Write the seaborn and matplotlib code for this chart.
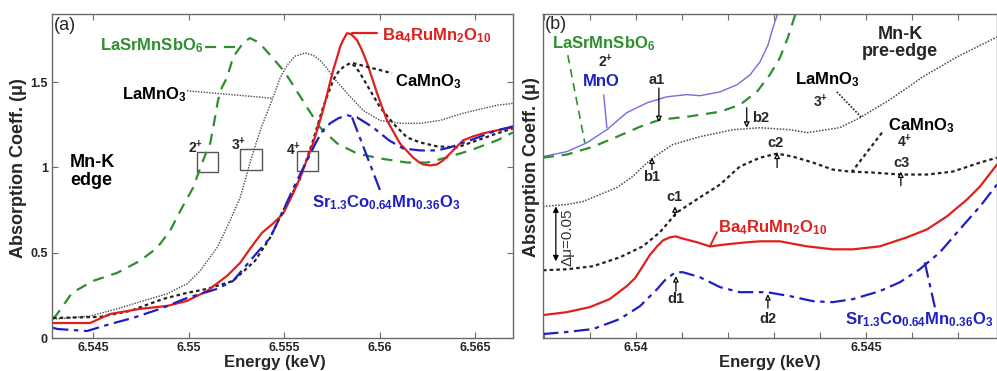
import matplotlib
matplotlib.use('Agg')
import matplotlib.pyplot as plt
from matplotlib.patches import Rectangle
import seaborn as sns

# ---------------- panel (a): Mn-K edge ----------------
e_sb_a = [6.5429, 6.54312, 6.5439, 6.545, 6.54626, 6.54746, 6.54835, 6.54903, 6.54966, 6.55024,
          6.5506, 6.55086, 6.55113, 6.55134, 6.55154, 6.55175, 6.55202, 6.55233, 6.5527, 6.55296,
          6.55322, 6.55353, 6.5539, 6.55437, 6.55495, 6.55531, 6.5562, 6.55688, 6.55778, 6.55882,
          6.56003, 6.56144, 6.56249, 6.56353, 6.56474, 6.56615, 6.56699]
mu_sb_a = [0.112, 0.141, 0.265, 0.335, 0.382, 0.453, 0.529, 0.629, 0.765, 0.882,
           0.994, 1.071, 1.141, 1.265, 1.394, 1.471, 1.529, 1.647, 1.706, 1.741,
           1.759, 1.741, 1.706, 1.647, 1.571, 1.512, 1.353, 1.235, 1.141, 1.082,
           1.053, 1.029, 1.029, 1.059, 1.1, 1.159, 1.206]

e_la_a = [6.5429, 6.54312, 6.54484, 6.54626, 6.54762, 6.54887, 6.54992, 6.5506, 6.55149, 6.55217,
          6.5527, 6.55296, 6.55322, 6.55353, 6.55385, 6.55416, 6.55442, 6.55479, 6.55516, 6.55558,
          6.5561, 6.55652, 6.55688, 6.55725, 6.55757, 6.5583, 6.55914, 6.56003, 6.56107, 6.56212,
          6.56317, 6.56437, 6.56615, 6.56699]
mu_la_a = [0.112, 0.112, 0.129, 0.171, 0.218, 0.259, 0.318, 0.394, 0.529, 0.688,
           0.824, 0.924, 1.029, 1.141, 1.247, 1.335, 1.412, 1.524, 1.6, 1.653,
           1.671, 1.659, 1.629, 1.582, 1.529, 1.435, 1.335, 1.276, 1.259, 1.259,
           1.276, 1.318, 1.365, 1.376]

e_ca_a = [6.5429, 6.54312, 6.54537, 6.54694, 6.54866, 6.54992, 6.55097, 6.55233, 6.55348, 6.55427,
          6.55495, 6.55584, 6.55652, 6.55704, 6.55757, 6.55783, 6.55809, 6.55846, 6.55872, 6.55898,
          6.5595, 6.56003, 6.56071, 6.56144, 6.56212, 6.56301, 6.56406, 6.56511, 6.56615, 6.56699]
mu_ca_a = [0.118, 0.118, 0.124, 0.159, 0.229, 0.265, 0.288, 0.335, 0.453, 0.588,
           0.747, 0.935, 1.159, 1.353, 1.512, 1.559, 1.588, 1.612, 1.594, 1.553,
           1.453, 1.353, 1.259, 1.176, 1.147, 1.124, 1.118, 1.159, 1.2, 1.229]

e_ba_a = [6.5429, 6.54484, 6.54589, 6.54746, 6.54887, 6.54992, 6.55097, 6.55202, 6.5527, 6.55322,
          6.55385, 6.55442, 6.55495, 6.55542, 6.55584, 6.55652, 6.55704, 6.55757, 6.55778, 6.55793,
          6.55809, 6.5583, 6.55851, 6.55882, 6.55908, 6.55935, 6.55987, 6.56039, 6.56107, 6.56175,
          6.56202, 6.56228, 6.56264, 6.56301, 6.56332, 6.56369, 6.56406, 6.56437, 6.56489, 6.56542,
          6.56615, 6.56699]
mu_ba_a = [0.088, 0.088, 0.141, 0.171, 0.188, 0.218, 0.276, 0.365, 0.441, 0.524,
           0.618, 0.671, 0.729, 0.835, 0.941, 1.141, 1.335, 1.571, 1.647, 1.706,
           1.747, 1.788, 1.782, 1.747, 1.688, 1.612, 1.435, 1.276, 1.141, 1.059,
           1.035, 1.018, 1.012, 1.018, 1.041, 1.082, 1.124, 1.159, 1.182, 1.2,
           1.218, 1.235]

e_sr_a = [6.5429, 6.54312, 6.54468, 6.54589, 6.54709, 6.54851, 6.54992, 6.55149, 6.55233, 6.55322,
          6.55427, 6.55495, 6.55531, 6.55568, 6.5562, 6.55673, 6.55704, 6.55741, 6.55783, 6.5583,
          6.55882, 6.55966, 6.5605, 6.56123, 6.56212, 6.56301, 6.56369, 6.56474, 6.56615, 6.56699]
mu_sr_a = [0.06, 0.053, 0.041, 0.082, 0.118, 0.171, 0.235, 0.288, 0.335, 0.453,
           0.588, 0.747, 0.835, 0.924, 1.041, 1.159, 1.218, 1.259, 1.288, 1.306,
           1.294, 1.235, 1.159, 1.112, 1.1, 1.1, 1.118, 1.159, 1.218, 1.241]

xticks_a = [6.545, 6.55, 6.555, 6.56, 6.565]
xticklabels_a = ['6.545', '6.55', '6.555', '6.56', '6.565']
yticks_a = [0, 0.5, 1, 1.5]
yticklabels_a = ['0', '0.5', '1', '1.5']

# ---------------- panel (b): Mn-K pre-edge (curves offset) ----------------
e_mno_b = [6.53798, 6.5385, 6.53893, 6.53937, 6.5398, 6.54024, 6.54067, 6.54111, 6.54139, 6.54183,
           6.5422, 6.54248, 6.5427, 6.54287, 6.54298, 6.54307, 6.54313]
mu_mno_b = [0.1655, 0.170, 0.178, 0.190, 0.2055, 0.2145, 0.220, 0.222, 0.221, 0.2245,
            0.231, 0.240, 0.252, 0.267, 0.283, 0.2945, 0.3036]

e_sb_b = [6.53798, 6.5385, 6.53907, 6.53959, 6.54009, 6.54052, 6.54111, 6.54139, 6.54183, 6.54226,
          6.54263, 6.54291, 6.54313, 6.5433, 6.54346, 6.5435]
mu_sb_b = [0.1645, 0.1673, 0.1745, 0.1836, 0.1927, 0.1991, 0.2018, 0.2036, 0.2064, 0.2127,
           0.2245, 0.240, 0.2555, 0.2736, 0.2945, 0.3036]

e_la_b = [6.53798, 6.5385, 6.53885, 6.53922, 6.53959, 6.53993, 6.5402, 6.54041, 6.5408, 6.54139,
          6.54211, 6.5427, 6.54335, 6.54372, 6.54443, 6.54487, 6.54552, 6.54624, 6.54698, 6.54785]
mu_la_b = [0.12, 0.1218, 0.1245, 0.1309, 0.1373, 0.1473, 0.1582, 0.1655, 0.1764, 0.1836,
           0.19, 0.1918, 0.19, 0.1873, 0.1918, 0.2009, 0.2173, 0.2382, 0.2564, 0.2745]

e_ca_b = [6.53798, 6.5385, 6.53907, 6.53965, 6.54015, 6.54052, 6.54089, 6.54139, 6.54183, 6.54226,
          6.5427, 6.54307, 6.54341, 6.54385, 6.54428, 6.54465, 6.54515, 6.54574, 6.54633, 6.54689,
          6.54748, 6.54785]
mu_ca_b = [0.0618, 0.0627, 0.0655, 0.0736, 0.0836, 0.0964, 0.1145, 0.1282, 0.14, 0.1564,
           0.1645, 0.1682, 0.1655, 0.16, 0.1536, 0.1518, 0.1509, 0.1491, 0.1491, 0.1518,
           0.16, 0.1645]

e_ba_b = [6.53798, 6.5385, 6.539, 6.53943, 6.5398, 6.53998, 6.54015, 6.5403, 6.54046, 6.54059,
          6.54074, 6.54087, 6.541, 6.54133, 6.54161, 6.54198, 6.54241, 6.5427, 6.54313, 6.54372,
          6.54428, 6.54472, 6.5453, 6.54589, 6.54633, 6.54676, 6.5472, 6.54748, 6.54785]
mu_ba_b = [0.0209, 0.0236, 0.0282, 0.0355, 0.0473, 0.0545, 0.0655, 0.0755, 0.0836, 0.0891,
           0.0918, 0.0927, 0.0909, 0.0873, 0.0836, 0.0855, 0.0873, 0.0882, 0.0882, 0.0836,
           0.0809, 0.0809, 0.0836, 0.0918, 0.0991, 0.1109, 0.1264, 0.1382, 0.1582]

e_sr_b = [6.53798, 6.5385, 6.53907, 6.53965, 6.54009, 6.54046, 6.54063, 6.5408, 6.54091, 6.54102,
          6.54117, 6.54139, 6.54183, 6.54226, 6.54285, 6.54335, 6.54385, 6.54428, 6.54472, 6.5453,
          6.54574, 6.54617, 6.54661, 6.54704, 6.54748, 6.54785]
mu_sr_b = [0.0036, 0.0055, 0.0082, 0.0173, 0.0291, 0.0445, 0.0527, 0.0582, 0.06, 0.06,
           0.0582, 0.0555, 0.0464, 0.0418, 0.0418, 0.0382, 0.0336, 0.0327, 0.0355, 0.0427,
           0.0509, 0.0627, 0.0782, 0.0991, 0.12, 0.14]

xticks_b = [6.54, 6.545]
xticklabels_b = ['6.54', '6.545']
xminor_b = [6.538, 6.539, 6.541, 6.542, 6.543, 6.544, 6.546, 6.547]

GREEN = '#2f8f2f'
RED = '#e0201c'
BLUE = '#1f1fc4'
LIGHTBLUE = '#6f6fe0'
DARK = '#222222'
GREY = '#4a4a4a'

ls_green = (0, (5, 3.5))
ls_ca = (0, (1.6, 1.4))
ls_la = (0, (1, 1))
ls_blue = (0, (7, 2.5, 2, 2.5))

sns.set_style('ticks')
plt.rcParams['font.family'] = ['Liberation Sans', 'DejaVu Sans']
plt.rcParams['mathtext.fontset'] = 'custom'
plt.rcParams['mathtext.rm'] = 'Liberation Sans:bold'
plt.rcParams['mathtext.it'] = 'Liberation Sans:bold'
plt.rcParams['mathtext.bf'] = 'Liberation Sans:bold'
plt.rcParams['mathtext.default'] = 'rm'


def curve(ax, e, mu, color, ls, lw):
    sns.lineplot(x=e, y=mu, ax=ax, color=color, linestyle=ls, linewidth=lw,
                 estimator=None, sort=False, solid_joinstyle='round', dash_joinstyle='round')


def leader(ax, xs, ys, color, ls, lw):
    ax.plot(xs, ys, color=color, linestyle=ls, linewidth=lw)


def arrow(ax, tail, tip, double=False, fc='white'):
    ax.annotate('', xy=tip, xytext=tail,
                arrowprops=dict(arrowstyle='<|-|>' if double else '-|>', fc=fc, ec='black',
                                lw=0.9, mutation_scale=8, shrinkA=0, shrinkB=0))


def style_axes(ax):
    for s in ax.spines.values():
        s.set_color('#6a6a6a')
        s.set_linewidth(1.0)
    ax.tick_params(which='both', direction='in', length=4, width=0.8, color='#6a6a6a',
                   top=True, right=True, labelsize=9, pad=3)


fig = plt.figure(figsize=(9.97, 3.71), dpi=100)
ax1 = fig.add_axes([0.0522, 0.0889, 0.4624, 0.8733])
ax2 = fig.add_axes([0.5446, 0.0889, 0.4554, 0.8733])

# ---- panel (a)
curve(ax1, e_sb_a, mu_sb_a, GREEN, ls_green, 1.6)
curve(ax1, e_la_a, mu_la_a, GREY, ls_la, 1.0)
curve(ax1, e_ca_a, mu_ca_a, DARK, ls_ca, 1.6)
curve(ax1, e_ba_a, mu_ba_a, RED, '-', 1.6)
curve(ax1, e_sr_a, mu_sr_a, BLUE, ls_blue, 1.6)

leader(ax1, [6.55086, 6.5527], [1.706, 1.706], GREEN, ls_green, 1.6)
leader(ax1, [6.54992, 6.55442], [1.45, 1.406], GREY, ls_la, 1.0)
leader(ax1, [6.55856, 6.55987], [1.788, 1.788], RED, '-', 1.6)
leader(ax1, [6.55861, 6.56065], [1.612, 1.553], DARK, ls_ca, 1.6)
leader(ax1, [6.55856, 6.56003], [1.294, 0.865], BLUE, ls_blue, 1.6)

for x0, y0, w, h in [(6.55045, 0.971, 0.0011, 0.118), (6.5527, 0.988, 0.00115, 0.118),
                     (6.55568, 0.982, 0.0011, 0.112)]:
    ax1.add_patch(Rectangle((x0, y0), w, h, fill=False, ec='#555555', lw=1.0))

tkw = dict(fontweight='bold', va='center')
ax1.text(6.55076, 1.712, r'LaSrMnSbO$_{6}$', color=GREEN, fontsize=12, ha='right', **tkw)
ax1.text(6.54992, 1.429, r'LaMnO$_{3}$', color='black', fontsize=12, ha='right', **tkw)
ax1.text(6.56013, 1.776, r'Ba$_{4}$RuMn$_{2}$O$_{10}$', color=RED, fontsize=12, ha='left', **tkw)
ax1.text(6.56081, 1.506, r'CaMnO$_{3}$', color='black', fontsize=12, ha='left', **tkw)
ax1.text(6.55647, 0.794, r'Sr$_{1.3}$Co$_{0.64}$Mn$_{0.36}$O$_{3}$', color=BLUE, fontsize=12,
         ha='left', **tkw)
ax1.text(6.5438, 0.976, 'Mn-K\nedge', color='black', fontsize=13, ha='left', linespacing=1.1, **tkw)
ax1.text(6.55034, 1.118, r'2$^{+}$', fontsize=10, ha='center', **tkw)
ax1.text(6.55264, 1.135, r'3$^{+}$', fontsize=10, ha='center', **tkw)
ax1.text(6.55552, 1.106, r'4$^{+}$', fontsize=10, ha='center', **tkw)
ax1.text(0.028, 0.966, '(a)', transform=ax1.transAxes, fontsize=13, ha='center', va='center')

ax1.set_xlim(6.54285, 6.56699)
ax1.set_ylim(0, 1.9)
ax1.set_xticks(xticks_a, xticklabels_a, fontweight='bold')
ax1.set_yticks(yticks_a, yticklabels_a, fontweight='bold')
ax1.set_xlabel('')
ax1.set_ylabel('')
style_axes(ax1)

# ---- panel (b)
curve(ax2, e_mno_b, mu_mno_b, LIGHTBLUE, '-', 1.0)
curve(ax2, e_sb_b, mu_sb_b, GREEN, ls_green, 1.6)
curve(ax2, e_la_b, mu_la_b, GREY, ls_la, 1.1)
curve(ax2, e_ca_b, mu_ca_b, DARK, ls_ca, 1.6)
curve(ax2, e_ba_b, mu_ba_b, RED, '-', 1.6)
curve(ax2, e_sr_b, mu_sr_b, BLUE, ls_blue, 1.6)

leader(ax2, [6.53852, 6.53889], [0.258, 0.178], GREEN, ls_green, 1.2)
leader(ax2, [6.5393, 6.53937], [0.2218, 0.1918], LIGHTBLUE, '-', 1.0)
leader(ax2, [6.54437, 6.54491], [0.2245, 0.2009], DARK, ls_la, 1.2)
leader(ax2, [6.54535, 6.5447], [0.1873, 0.1518], DARK, ls_ca, 1.6)
leader(ax2, [6.54161, 6.54176], [0.0836, 0.0964], RED, '-', 1.4)
leader(ax2, [6.54628, 6.5465], [0.069, 0.028], BLUE, ls_blue, 1.6)

arrow(ax2, (6.5405, 0.228), (6.5405, 0.197))
arrow(ax2, (6.54035, 0.1536), (6.54035, 0.1645))
arrow(ax2, (6.54241, 0.21), (6.54241, 0.1918))
arrow(ax2, (6.54085, 0.111), (6.54085, 0.12))
arrow(ax2, (6.54307, 0.1555), (6.54307, 0.169))
arrow(ax2, (6.54576, 0.139), (6.54576, 0.1518))
arrow(ax2, (6.54087, 0.0427), (6.54087, 0.0564))
arrow(ax2, (6.54287, 0.0273), (6.54287, 0.04))
arrow(ax2, (6.53826, 0.0700), (6.53826, 0.1200), double=True, fc='black')

ax2.text(6.53817, 0.2682, r'LaSrMnSbO$_{6}$', color=GREEN, fontsize=12, ha='left', **tkw)
ax2.text(6.53933, 0.2518, r'2$^{+}$', fontsize=10, ha='center', **tkw)
ax2.text(6.53924, 0.2336, 'MnO', color=BLUE, fontsize=12, ha='center', **tkw)
ax2.text(6.54346, 0.2355, r'LaMnO$_{3}$', color='black', fontsize=12, ha='left', **tkw)
ax2.text(6.54402, 0.2155, r'3$^{+}$', fontsize=10, ha='center', **tkw)
ax2.text(6.54574, 0.2691, 'Mn-K\npre-edge', fontsize=13, ha='center', linespacing=1.05, **tkw)
ax2.text(6.54548, 0.1937, r'CaMnO$_{3}$', color='black', fontsize=12, ha='left', **tkw)
ax2.text(6.54583, 0.1790, r'4$^{+}$', fontsize=10, ha='center', **tkw)
ax2.text(6.54178, 0.1009, r'Ba$_{4}$RuMn$_{2}$O$_{10}$', color=RED, fontsize=12, ha='left', **tkw)
ax2.text(6.54454, 0.0164, r'Sr$_{1.3}$Co$_{0.64}$Mn$_{0.36}$O$_{3}$', color=BLUE, fontsize=12,
         ha='left', **tkw)
for lab, x, y in [('a1', 6.54046, 0.2355), ('b1', 6.54033, 0.1473), ('b2', 6.54272, 0.2009),
                  ('c1', 6.54083, 0.1282), ('c2', 6.54304, 0.1782), ('c3', 6.54578, 0.16),
                  ('d1', 6.54087, 0.0355), ('d2', 6.54287, 0.0173)]:
    ax2.text(x, y, lab, fontsize=10.5, ha='center', **tkw)
ax2.text(6.53852, 0.0918, 'Δμ=0.05', fontsize=11, rotation=90, ha='center', va='center',
         color='#333333')
ax2.text(0.0286, 0.969, '(b)', transform=ax2.transAxes, fontsize=13, ha='center', va='center')

ax2.set_xlim(6.53798, 6.54785)
ax2.set_ylim(0, 0.2955)
ax2.set_xticks(xticks_b, xticklabels_b, fontweight='bold')
ax2.set_xticks(xminor_b, minor=True)
ax2.set_yticks([])
ax2.set_xlabel('')
ax2.set_ylabel('')
style_axes(ax2)

fig.text(0.019, 0.547, 'Absorption Coeff. (μ)', rotation=90, fontsize=13, fontweight='bold',
         ha='center', va='center')
fig.text(0.533, 0.55, 'Absorption Coeff. (μ)', rotation=90, fontsize=13, fontweight='bold',
         ha='center', va='center')
fig.text(0.2758, 0.0216, 'Energy (keV)', fontsize=12, fontweight='bold', ha='center', va='center')
fig.text(0.7723, 0.0216, 'Energy (keV)', fontsize=12, fontweight='bold', ha='center', va='center')

fig.savefig('out.png', dpi=100)
